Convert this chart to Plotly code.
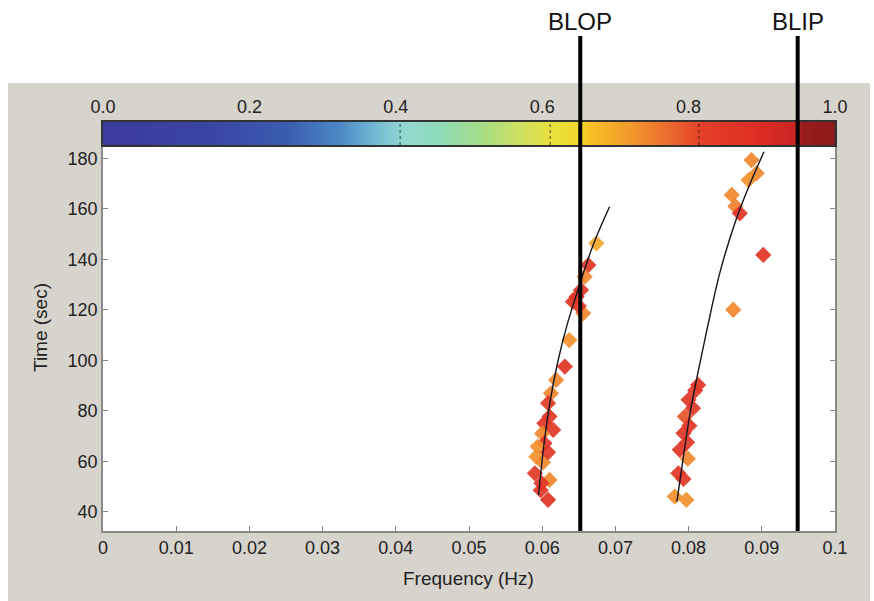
import numpy as np
import plotly.graph_objects as go

# ---- data -----------------------------------------------------------------
# Low-frequency cluster (BLOP side): frequency [Hz], time [s], coherence level
blop_freq = [0.0674, 0.0663, 0.0658, 0.0653, 0.0647, 0.0642, 0.0656, 0.0650,
             0.0637, 0.0631, 0.0619, 0.0612, 0.0608, 0.0610, 0.0603, 0.0615,
             0.0600, 0.0603, 0.0594, 0.0592, 0.0601, 0.0608, 0.0590, 0.0610,
             0.0599, 0.0608, 0.0598]
blop_time = [146.3, 137.7, 133.1, 127.8, 125.2, 123.2, 118.6, 121.5,
             108.0, 97.5, 92.2, 86.9, 83.0, 77.7, 75.0, 72.4,
             71.0, 67.1, 65.8, 61.8, 59.5, 63.5, 55.2, 52.6,
             51.3, 44.7, 48.5]
blop_level = [0.70, 0.86, 0.74, 0.86, 0.86, 0.86, 0.74, 0.84,
              0.73, 0.86, 0.74, 0.74, 0.84, 0.86, 0.86, 0.85,
              0.74, 0.86, 0.73, 0.73, 0.74, 0.85, 0.84, 0.74,
              0.86, 0.87, 0.86]

# High-frequency cluster (BLIP side)
blip_freq = [0.0886, 0.0893, 0.0882, 0.0859, 0.0864, 0.0870, 0.0902, 0.0861,
             0.0813, 0.0809, 0.0800, 0.0806, 0.0795, 0.0801, 0.0793, 0.0798,
             0.0788, 0.0799, 0.0786, 0.0793, 0.0781, 0.0797]
blip_time = [179.3, 174.1, 171.4, 165.5, 161.0, 158.2, 141.7, 120.0,
             90.2, 88.0, 84.3, 81.0, 77.7, 74.0, 71.1, 67.5,
             64.5, 61.0, 55.2, 53.0, 46.0, 44.7]
blip_level = [0.74, 0.74, 0.73, 0.74, 0.75, 0.86, 0.86, 0.74,
              0.86, 0.85, 0.86, 0.85, 0.80, 0.86, 0.86, 0.85,
              0.86, 0.74, 0.86, 0.85, 0.73, 0.73]

# Fitted dispersion curves
fit1_freq = [0.0595, 0.0603, 0.0611, 0.0621, 0.0634, 0.0649, 0.0670, 0.0692]
fit1_time = [46.6, 68.0, 84.0, 99.0, 114.0, 128.0, 146.0, 160.8]
fit2_freq = [0.0784, 0.0793, 0.0802, 0.0812, 0.0825, 0.0843, 0.0864, 0.0884, 0.0903]
fit2_time = [44.0, 62.0, 79.0, 94.0, 112.0, 135.0, 155.0, 170.0, 182.6]

# Reference frequencies
ref_names = ["BLOP", "BLIP"]
ref_freqs = [0.0652, 0.0949]

# Axis ticks
x_ticks = [0, 0.01, 0.02, 0.03, 0.04, 0.05, 0.06, 0.07, 0.08, 0.09, 0.1]
x_ticktext = ["0", "0.01", "0.02", "0.03", "0.04", "0.05", "0.06", "0.07", "0.08", "0.09", "0.1"]
y_ticks = [40, 60, 80, 100, 120, 140, 160, 180]
cb_ticks = [0.0, 0.2, 0.4, 0.6, 0.8, 1.0]
cb_ticktext = ["0.0", "0.2", "0.4", "0.6", "0.8", "1.0"]

# ---- styling --------------------------------------------------------------
colorscale = [
    [0.00, "#3b3b9e"], [0.15, "#3a45a6"], [0.25, "#3a5cb0"], [0.32, "#4a86c4"],
    [0.37, "#70b8d4"], [0.41, "#92d8d2"], [0.46, "#8edcb8"], [0.52, "#a6dc84"],
    [0.57, "#cfe060"], [0.62, "#ece03a"], [0.655, "#f2d42a"], [0.665, "#f8c024"],
    [0.72, "#f29a2c"], [0.77, "#ec6e2e"], [0.82, "#e43e28"], [0.90, "#dc2c22"],
    [0.945, "#c82422"], [0.955, "#9a1c1a"], [1.00, "#8a1a18"],
]
FONT = "Liberation Sans, Arial, sans-serif"
W, H = 874, 601

def px_x(p):
    return p / W

def px_y(p):
    return (H - p) / H

plot_x = [px_x(103), px_x(835)]
plot_y = [px_y(531), px_y(145)]
bar_y = [px_y(145), px_y(122)]

fig = go.Figure()

# colour ramp for the colour bar strip
ramp = np.linspace(0, 1, 256)
fig.add_trace(go.Heatmap(
    z=[ramp], x=ramp, y=[0], colorscale=colorscale, zmin=0, zmax=1,
    showscale=False, xaxis="x2", yaxis="y2", hoverinfo="skip",
))

marker_common = dict(symbol="diamond", size=12.5, colorscale=colorscale,
                     cmin=0, cmax=1, opacity=0.92, line=dict(width=0))
fig.add_trace(go.Scatter(
    x=blop_freq, y=blop_time, mode="markers",
    marker=dict(color=blop_level, **marker_common), showlegend=False,
))
fig.add_trace(go.Scatter(
    x=blip_freq, y=blip_time, mode="markers",
    marker=dict(color=blip_level, **marker_common), showlegend=False,
))
for fx, ft in ((fit1_freq, fit1_time), (fit2_freq, fit2_time)):
    fig.add_trace(go.Scatter(
        x=fx, y=ft, mode="lines",
        line=dict(color="#151520", width=1.4, shape="spline", smoothing=1.0),
        showlegend=False,
    ))

shapes = [
    # white surround outside the grey panel
    dict(type="rect", xref="paper", yref="paper", x0=0, x1=1, y0=px_y(83), y1=1,
         fillcolor="white", line=dict(width=0), layer="below"),
    dict(type="rect", xref="paper", yref="paper", x0=0, x1=px_x(8), y0=0, y1=1,
         fillcolor="white", line=dict(width=0), layer="below"),
    dict(type="rect", xref="paper", yref="paper", x0=px_x(870), x1=1, y0=0, y1=1,
         fillcolor="white", line=dict(width=0), layer="below"),
]
# dashed guides inside the colour bar
for v in (0.406, 0.611, 0.814):
    shapes.append(dict(type="line", xref="x2", yref="paper", x0=v, x1=v,
                       y0=bar_y[0], y1=bar_y[1],
                       line=dict(color="rgba(0,0,0,0.45)", width=1.5, dash="3px,3px"),
                       layer="above"))
# reference frequency markers
annotations = []
for name, f in zip(ref_names, ref_freqs):
    shapes.append(dict(type="line", xref="x", yref="paper", x0=f, x1=f,
                       y0=plot_y[0], y1=px_y(36),
                       line=dict(color="black", width=4), layer="above"))
    annotations.append(dict(text=name, x=f, xref="x", y=px_y(22), yref="paper",
                            showarrow=False, xanchor="center", yanchor="middle",
                            font=dict(family=FONT, size=24, color="#111")))

annotations.append(dict(text="Frequency (Hz)", x=px_x(468), y=px_y(578),
                        xref="paper", yref="paper", showarrow=False,
                        xanchor="center", yanchor="middle",
                        font=dict(family=FONT, size=19, color="#222")))
annotations.append(dict(text="Time (sec)", x=px_x(40), y=px_y(328),
                        xref="paper", yref="paper", showarrow=False, textangle=-90,
                        xanchor="center", yanchor="middle",
                        font=dict(family=FONT, size=19, color="#222")))

tickfont = dict(family=FONT, size=18, color="#222")
fig.update_layout(
    width=W, height=H, autosize=False,
    margin=dict(l=0, r=0, t=0, b=0, pad=0),
    paper_bgcolor="#d7d3cd",
    plot_bgcolor="white",
    showlegend=False,
    shapes=shapes,
    annotations=annotations,
    xaxis=dict(domain=plot_x, range=[0, 0.1], tickvals=x_ticks, ticktext=x_ticktext,
               ticks="inside", ticklen=5, tickcolor="#888", tickwidth=1.2,
               showline=True, linecolor="#8a8a8a", linewidth=1.5, mirror=True,
               showgrid=False, zeroline=False, tickfont=tickfont, anchor="y",
               automargin=False),
    yaxis=dict(domain=plot_y, range=[32.35, 185.27], tickvals=y_ticks,
               ticks="inside", ticklen=5, tickcolor="#888", tickwidth=1.2,
               showline=True, linecolor="#8a8a8a", linewidth=1.5, mirror="ticks",
               showgrid=False, zeroline=False, tickfont=tickfont, anchor="x",
               automargin=False),
    xaxis2=dict(domain=plot_x, range=[0, 1], tickvals=cb_ticks, ticktext=cb_ticktext,
                side="top", anchor="y2", ticks="", showline=True, linecolor="#333",
                linewidth=1.5, mirror=True, showgrid=False, zeroline=False,
                tickfont=tickfont, automargin=False),
    yaxis2=dict(domain=bar_y, range=[-0.5, 0.5], anchor="x2", showticklabels=False,
                ticks="", showline=True, linecolor="#333", linewidth=1.5, mirror=True,
                showgrid=False, zeroline=False, automargin=False),
)

fig.write_html(
    "out.html",
    config={"responsive": False, "displayModeBar": False},
    post_script="document.body.style.margin='0';document.body.style.overflow='hidden';",
)
